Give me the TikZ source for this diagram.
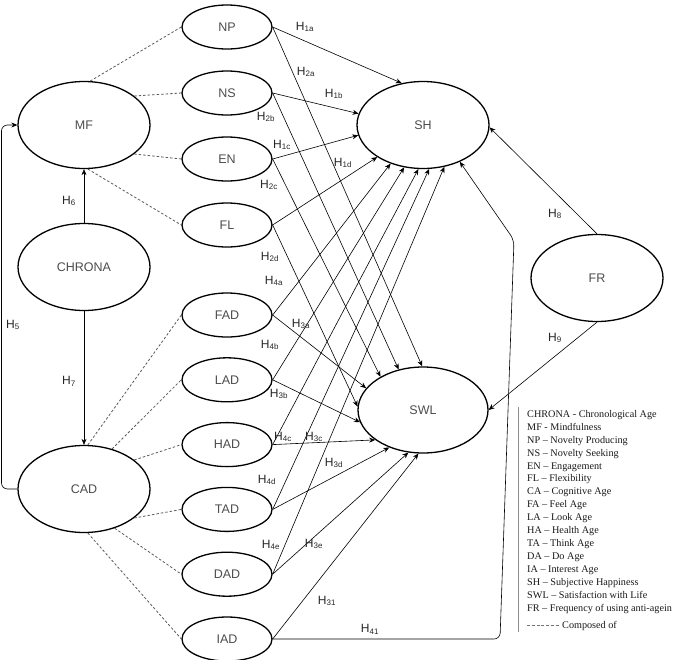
\documentclass[tikz,border=0pt]{standalone}
\usepackage{fontspec}
\setmainfont{Liberation Serif}
\setsansfont{Liberation Sans}
\usetikzlibrary{shapes.geometric,arrows.meta}

\newcommand\bigw{132pt}
\newcommand\bigh{87pt}
\newcommand\smw{90pt}
\newcommand\smh{44pt}
\newcommand\smx{227}
\newcommand\legx{527}
\newcommand\legy{417.3}
\newcommand\legdy{12.93}

\begin{document}
\begin{tikzpicture}[x=1pt,y=-1pt,
    big/.style={ellipse,draw,line width=1.3pt,minimum width=\bigw,minimum height=\bigh,inner sep=0pt,
      font=\sffamily\fontsize{12.5}{14}\selectfont,text=black!70},
    small/.style={ellipse,draw,line width=1.3pt,minimum width=\smw,minimum height=\smh,inner sep=0pt,
      font=\sffamily\fontsize{12.5}{14}\selectfont,text=black!70},
    hyp/.style={draw,line width=0.6pt,-{Stealth[length=6pt,width=5pt]}},
    comp/.style={draw,black!65,line width=0.8pt,dash pattern=on 2.5pt off 2pt},
    lbl/.style={inner sep=0pt,font=\sffamily\fontsize{12}{13}\selectfont,text=black!85},
    legtxt/.style={anchor=base west,inner sep=0pt,font=\fontsize{10.2}{12}\selectfont,text=black!90}]

  \useasboundingbox (0,0) rectangle (675,659);

  % constructs
  \node[big] (mf) at (84,125) {MF};
  \node[big] (chrona) at (84,267) {CHRONA};
  \node[big] (cad) at (84,489) {CAD};
  \node[big] (sh) at (423,125) {SH};
  \node[big,minimum width=130pt,minimum height=86pt] (swl) at (423,410) {SWL};
  \node[big] (fr) at (597,278) {FR};

  % mindfulness dimensions
  \node[small] (np) at (\smx,27) {NP};
  \node[small] (ns) at (\smx,93) {NS};
  \node[small] (en) at (\smx,159) {EN};
  \node[small] (fl) at (\smx,225) {FL};

  % cognitive age dimensions
  \node[small] (fad) at (\smx,315) {FAD};
  \node[small] (lad) at (\smx,379.8) {LAD};
  \node[small] (had) at (\smx,444.6) {HAD};
  \node[small] (tad) at (\smx,509.4) {TAD};
  \node[small] (dad) at (\smx,574.2) {DAD};
  \node[small] (iad) at (\smx,639) {IAD};

  % composed of
  \draw[comp] (mf.82) -- (np.west);
  \draw[comp] (mf.30) -- (ns.west);
  \draw[comp] (mf.-30) -- (en.west);
  \draw[comp] (mf.-85) -- (fl.west);
  \draw[comp] (cad.85) -- (fad.west);
  \draw[comp] (cad.55) -- (lad.west);
  \draw[comp] (cad.30) -- (had.west);
  \draw[comp] (cad.-30) -- (tad.west);
  \draw[comp] (cad.-52) -- (dad.west);
  \draw[comp] (cad.-85) -- (iad.west);

  % H1 and H2
  \draw[hyp] (np.east) -- (sh.117);
  \draw[hyp] (ns.east) -- (sh.170);
  \draw[hyp] (en.east) -- (sh.-171);
  \draw[hyp] (fl.east) -- (sh.-145);
  \draw[hyp] (np.east) -- (swl.91);
  \draw[hyp] (ns.east) -- (swl.121);
  \draw[hyp] (en.east) -- (swl.142);
  \draw[hyp] (fl.east) -- (swl.177);

  % H3 and H4
  \draw[hyp] (fad.east) -- (swl.159);
  \draw[hyp] (lad.east) -- (swl.-169);
  \draw[hyp] (had.east) -- (swl.-148);
  \draw[hyp] (tad.east) -- (swl.-132);
  \draw[hyp] (dad.east) -- (swl.-109);
  \draw[hyp] (iad.east) -- (swl.-96);
  \draw[hyp] (fad.east) -- (sh.-130);
  \draw[hyp] (lad.east) -- (sh.-114);
  \draw[hyp] (had.east) -- (sh.-96);
  \draw[hyp] (tad.east) -- (sh.-82);
  \draw[hyp] (dad.east) -- (sh.-63);
  \coordinate (c41a) at (500,639);
  \coordinate (c41b) at (514,240);
  \draw[hyp,rounded corners=6pt] (iad.east) -- (c41a) -- (c41b) -- (sh.-45);

  % H5 to H9
  \coordinate (c5a) at (1.5,489);
  \coordinate (c5b) at (1.5,125);
  \draw[hyp,rounded corners=6pt] (cad.west) -- (c5a) -- (c5b) -- (mf.west);
  \draw[hyp] (chrona.north) -- (mf.south);
  \draw[hyp] (chrona.south) -- (cad.north);
  \draw[hyp] (fr.north) -- (sh.-2);
  \draw[hyp] (fr.south) -- (swl.east);

  % labels
  \node[lbl] (h1a) at (305,27) {H\textsubscript{1a}};
  \node[lbl] (h2a) at (306,72) {H\textsubscript{2a}};
  \node[lbl] (h1b) at (334,94) {H\textsubscript{1b}};
  \node[lbl] (h2b) at (266,117) {H\textsubscript{2b}};
  \node[lbl] (h1c) at (282,145) {H\textsubscript{1c}};
  \node[lbl] (h1d) at (343,163) {H\textsubscript{1d}};
  \node[lbl] (h2c) at (269,185) {H\textsubscript{2c}};
  \node[lbl] (h2d) at (270,257) {H\textsubscript{2d}};
  \node[lbl] (h4a) at (274,281) {H\textsubscript{4a}};
  \node[lbl] (h3a) at (301,324) {H\textsubscript{3a}};
  \node[lbl] (h4b) at (270,345) {H\textsubscript{4b}};
  \node[lbl] (h3b) at (279,394) {H\textsubscript{3b}};
  \node[lbl] (h4c) at (283,437) {H\textsubscript{4c}};
  \node[lbl] (h3c) at (314,437) {H\textsubscript{3c}};
  \node[lbl] (h3d) at (334,463) {H\textsubscript{3d}};
  \node[lbl] (h4d) at (267,480) {H\textsubscript{4d}};
  \node[lbl] (h4e) at (271,545) {H\textsubscript{4e}};
  \node[lbl] (h3e) at (314,544) {H\textsubscript{3e}};
  \node[lbl] (h31) at (327,601) {H\textsubscript{31}};
  \node[lbl] (h41) at (370,629) {H\textsubscript{41}};
  \node[lbl] (h5) at (13,325) {H\textsubscript{5}};
  \node[lbl] (h6) at (69,201) {H\textsubscript{6}};
  \node[lbl] (h7) at (69,381) {H\textsubscript{7}};
  \node[lbl] (h8) at (555,214) {H\textsubscript{8}};
  \node[lbl] (h9) at (555,338) {H\textsubscript{9}};

  % legend
  \draw[black!45,line width=1pt] (518,407) -- (518,632);
  \node[legtxt] (l1) at (\legx,\legy) {CHRONA - Chronological Age};
  \node[legtxt] (l2) at (\legx,\legy+\legdy) {MF - Mindfulness};
  \node[legtxt] (l3) at (\legx,\legy+2*\legdy) {NP – Novelty Producing};
  \node[legtxt] (l4) at (\legx,\legy+3*\legdy) {NS – Novelty Seeking};
  \node[legtxt] (l5) at (\legx,\legy+4*\legdy) {EN – Engagement};
  \node[legtxt] (l6) at (\legx,\legy+5*\legdy) {FL – Flexibility};
  \node[legtxt] (l7) at (\legx,\legy+6*\legdy) {CA – Cognitive Age};
  \node[legtxt] (l8) at (\legx,\legy+7*\legdy) {FA – Feel Age};
  \node[legtxt] (l9) at (\legx,\legy+8*\legdy) {LA – Look Age};
  \node[legtxt] (l10) at (\legx,\legy+9*\legdy) {HA – Health Age};
  \node[legtxt] (l11) at (\legx,\legy+10*\legdy) {TA – Think Age};
  \node[legtxt] (l12) at (\legx,\legy+11*\legdy) {DA – Do Age};
  \node[legtxt] (l13) at (\legx,\legy+12*\legdy) {IA – Interest Age};
  \node[legtxt] (l14) at (\legx,\legy+13*\legdy) {SH – Subjective Happiness};
  \node[legtxt] (l15) at (\legx,\legy+14*\legdy) {SWL – Satisfaction with Life};
  \node[legtxt] (l16) at (\legx,\legy+15*\legdy) {FR – Frequency of using anti-agein};
  \draw[black!55,line width=0.6pt,dash pattern=on 3pt off 1.8pt] (527,625) -- (559,625);
  \node[legtxt] (l17) at (562,628.3) {Composed of};
\end{tikzpicture}
\end{document}
